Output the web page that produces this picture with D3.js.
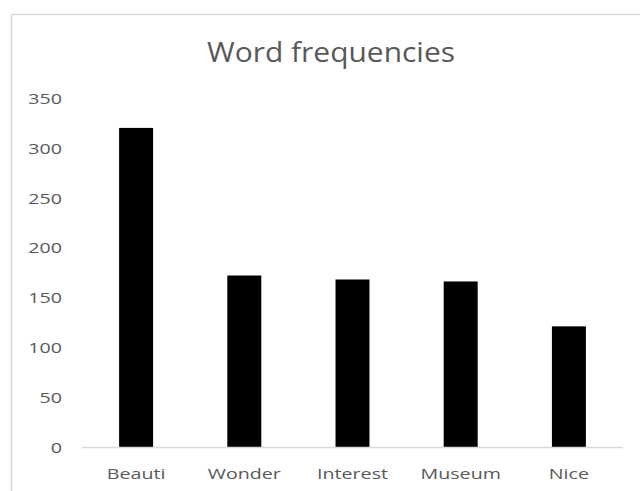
<!DOCTYPE html>
<html>
<head>
<meta charset="utf-8">
<script src="https://cdn.jsdelivr.net/npm/d3@7"></script>
<style>
html,body{margin:0;padding:0;background:#fff;}
svg{display:block;}
</style>
</head>
<body>
<svg id="chart" width="640" height="491"></svg>
<script>
const categories = ["Beauti", "Wonder", "Interest", "Museum", "Nice"];
const values = [320, 172, 168, 166, 121];
const yTicks = [0, 50, 100, 150, 200, 250, 300, 350];
const title = "Word frequencies";

const svg = d3.select("#chart");
const W = 640, H = 491;
const font = "'Open Sans', 'Noto Sans', sans-serif";
const stretch = 1.31;

// chart area border
svg.append("rect")
  .attr("x", 11.5).attr("y", 14.5)
  .attr("width", W + 10).attr("height", H + 10)
  .attr("fill", "#fff").attr("stroke", "#d9d9d9").attr("stroke-width", 1.5);

const x = d3.scaleBand().domain(categories).range([82, 623])
  .paddingInner(0.686).paddingOuter(0.343);
const y = d3.scaleLinear().domain([0, 350]).range([447, 98]);

// title
const t = svg.append("text")
  .attr("x", 0).attr("y", 0)
  .attr("text-anchor", "middle")
  .attr("font-family", font)
  .attr("font-size", 26.5)
  .attr("fill", "#595959")
  .text(title);
const tw = t.node().getComputedTextLength();
t.attr("transform", `translate(331,61.5) scale(${248 / tw},1)`);

// y axis
const yAxis = d3.axisLeft(y).tickValues(yTicks).tickSize(0).tickPadding(0);
const gy = svg.append("g").attr("transform", "translate(62,0)").call(yAxis);
gy.select(".domain").remove();
gy.selectAll("text")
  .attr("font-family", font).attr("font-size", 15)
  .attr("fill", "#595959").attr("dy", "0.36em")
  .attr("transform", `scale(${stretch},1)`);

// bars
svg.append("g").selectAll("rect")
  .data(values)
  .join("rect")
  .attr("x", (d, i) => x(categories[i]))
  .attr("width", x.bandwidth())
  .attr("y", d => y(d))
  .attr("height", d => y(0) - y(d))
  .attr("fill", "#000");

// x axis
const xAxis = d3.axisBottom(x).tickSize(0).tickPadding(0);
const gx = svg.append("g").attr("transform", `translate(0,${y(0)})`).call(xAxis);
gx.select(".domain").attr("stroke", "#d9d9d9").attr("stroke-width", 1.5)
  .attr("d", `M82,0.5H623`);
gx.selectAll("text")
  .attr("font-family", font).attr("font-size", 15)
  .attr("fill", "#595959").attr("dy", 0).attr("y", 32)
  .attr("transform", `scale(${stretch},1)`);
</script>
</body>
</html>
